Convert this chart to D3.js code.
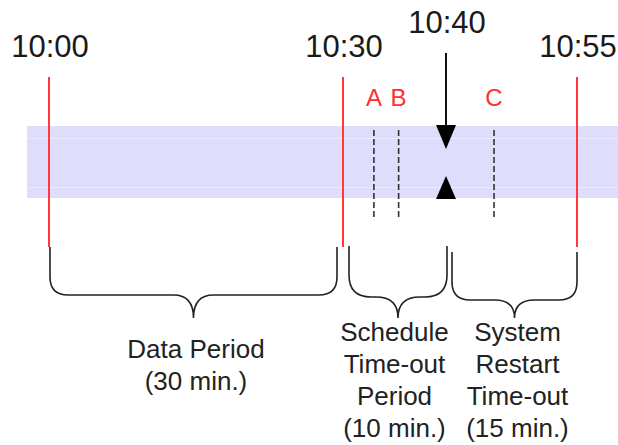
<!DOCTYPE html>
<meta charset="utf-8">
<style>
    body { margin: 0; background: #fff; }
    svg { display: block; font-family: "Liberation Sans", Arial, sans-serif; }
</style>
<script src="https://d3js.org/d3.v7.min.js"></script>
<div id="chart"></div>
<script>

    // time marks (minutes after 10:00)
    var timeLabels = ["10:00", "10:30", "10:40", "10:55"];
    var timeMinutes = [0, 30, 40, 55];
    var redMarks = [0, 30, 55];
    var nowMinute = 40;

    // events inside the band
    var eventNames = ["A", "B", "C"];
    var eventMinutes = [33, 35.4, 45.5];

    // periods under the band
    var periodStart = [0, 30, 40];
    var periodEnd = [30, 40, 55];
    var periodText = [
        ["Data Period", "(30 min.)"],
        ["Schedule", "Time-out", "Period", "(10 min.)"],
        ["System", "Restart", "Time-out", "(15 min.)"]
    ];

    var width = 618, height = 445;

    var svg = d3.select("#chart")
        .append("svg")
        .attr("width", width)
        .attr("height", height);

    // timeline is not to scale in the picture, so piecewise
    var x = d3.scaleLinear()
        .domain(timeMinutes)
        .range([49, 343, 446, 577]);

    var bandTop = 126, bandBottom = 198;

    // blue band
    svg.append("rect")
        .attr("x", 27)
        .attr("y", bandTop)
        .attr("width", width - 27)
        .attr("height", bandBottom - bandTop)
        .attr("fill", "#dedefc");

    svg.selectAll(".bandline")
        .data([138, 187])
        .enter()
        .append("line")
        .attr("x1", 27)
        .attr("x2", width)
        .attr("y1", function(d) { return d + 0.5; })
        .attr("y2", function(d) { return d + 0.5; })
        .attr("stroke", "#ebebfd")
        .attr("stroke-width", 1);

    // time labels
    svg.selectAll(".tlabel")
        .data(timeMinutes)
        .enter()
        .append("text")
        .attr("x", function(d) { return x(d) + 1; })
        .attr("y", function(d) { return d === nowMinute ? 33 : 57; })
        .attr("text-anchor", "middle")
        .style("font-size", "31px")
        .attr("fill", "#1a1a1a")
        .text(function(d, i) { return timeLabels[i]; });

    // red marks
    svg.selectAll(".red")
        .data(redMarks)
        .enter()
        .append("line")
        .attr("x1", function(d) { return x(d); })
        .attr("x2", function(d) { return x(d); })
        .attr("y1", 77)
        .attr("y2", 247)
        .attr("stroke", "#ff3838")
        .attr("stroke-width", 2);

    // dashed event lines
    svg.selectAll(".ev")
        .data(eventMinutes)
        .enter()
        .append("line")
        .attr("x1", function(d) { return x(d); })
        .attr("x2", function(d) { return x(d); })
        .attr("y1", 130)
        .attr("y2", 218)
        .attr("stroke", "#333")
        .attr("stroke-width", 1.6)
        .attr("stroke-dasharray", "6,3");

    svg.selectAll(".evlabel")
        .data(eventMinutes)
        .enter()
        .append("text")
        .attr("x", function(d) { return x(d); })
        .attr("y", 106)
        .attr("text-anchor", "middle")
        .style("font-size", "24px")
        .attr("fill", "#ff3030")
        .text(function(d, i) { return eventNames[i]; });

    // arrow at current time
    var ax = x(nowMinute);
    svg.append("line")
        .attr("x1", ax).attr("x2", ax)
        .attr("y1", 53).attr("y2", 128)
        .attr("stroke", "#111")
        .attr("stroke-width", 2);

    svg.append("path")
        .attr("d", "M" + (ax - 10) + "," + 125 + "L" + (ax + 10) + "," + 125 + "L" + ax + "," + 149 + "Z")
        .attr("fill", "#000");

    svg.append("path")
        .attr("d", "M" + (ax - 10) + "," + 199 + "L" + (ax + 10) + "," + 199 + "L" + ax + "," + 176 + "Z")
        .attr("fill", "#000");

    // curly braces
    function bracePath(x0, x1, top0, top1, hy, tipX, tipY, r, w) {
        return "M" + x0 + "," + top0 +
            "L" + x0 + "," + (hy - r) +
            "Q" + x0 + "," + hy + " " + (x0 + r) + "," + hy +
            "L" + (tipX - w) + "," + hy +
            "Q" + tipX + "," + hy + " " + tipX + "," + tipY +
            "Q" + tipX + "," + hy + " " + (tipX + w) + "," + hy +
            "L" + (x1 - r) + "," + hy +
            "Q" + x1 + "," + hy + " " + x1 + "," + (hy - r) +
            "L" + x1 + "," + top1;
    }

    var braceTops = [247, 246, 252];
    var braceMid = [295, 297, 300];

    svg.selectAll(".brace")
        .data(periodStart)
        .enter()
        .append("path")
        .attr("d", function(d, i) {
            var x0 = x(d) + (i > 0 ? 6 : 1);
            var x1 = x(periodEnd[i]) - (i === 0 ? 6 : 0) + (i === 1 ? 1 : 0);
            var tip = (x0 + x1) / 2;
            var r = i === 1 ? 22 : 18;
            var w = i === 1 ? 22 : 20;
            return bracePath(x0, x1, braceTops[i], braceTops[i], braceMid[i], tip, 318, r, w);
        })
        .attr("fill", "none")
        .attr("stroke", "#222")
        .attr("stroke-width", 1.6);

    // period text
    var lineGap = 32;
    periodText.forEach(function(lines, i) {
        var cx = (x(periodStart[i]) + x(periodEnd[i])) / 2 + (i === 2 ? 6 : 0);
        var y0 = i === 0 ? 358 : 341;
        svg.append("text")
            .attr("x", cx)
            .attr("y", y0)
            .attr("text-anchor", "middle")
            .style("font-size", "26px")
            .attr("fill", "#222")
            .selectAll("tspan")
            .data(lines)
            .enter()
            .append("tspan")
            .attr("x", cx)
            .attr("y", function(d, j) { return y0 + j * lineGap; })
            .text(function(d) { return d; });
    });

</script>
